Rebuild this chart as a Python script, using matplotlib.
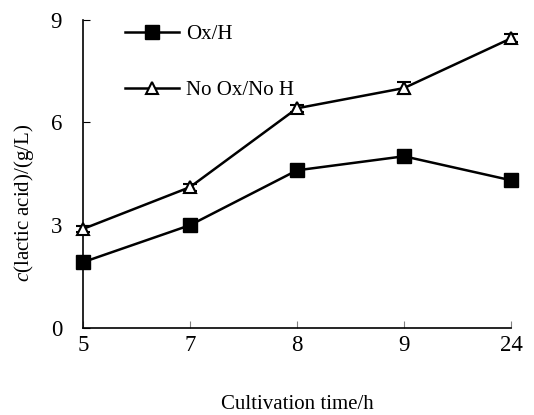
import matplotlib.pyplot as plt
from matplotlib.lines import Line2D

plt.rcParams['font.family'] = ['Liberation Serif', 'DejaVu Serif']
plt.rcParams['mathtext.fontset'] = 'custom'
plt.rcParams['mathtext.rm'] = 'Liberation Serif'
plt.rcParams['mathtext.it'] = 'Liberation Serif:italic'

time_labels = ["5", "7", "8", "9", "24"]
ox_h = [1.92, 3.0, 4.6, 5.01, 4.31]
ox_h_err = [0.08, 0.08, 0.08, 0.08, 0.08]
no_ox = [2.89, 4.11, 6.41, 7.0, 8.45]
no_ox_err = [0.1, 0.1, 0.1, 0.18, 0.12]

fig = plt.figure(figsize=(5.34, 4.15), dpi=100)
ax = fig.add_axes([0.1554, 0.2096, 0.8016, 0.7434])

x = list(range(len(time_labels)))
ax.errorbar(x, ox_h, yerr=ox_h_err, color='black', lw=1.8, marker='s',
            ms=10, mfc='black', mec='black', capsize=4, elinewidth=1.2,
            clip_on=False, zorder=3)
ax.errorbar(x, no_ox, yerr=no_ox_err, color='black', lw=1.8, marker='^',
            ms=9, mfc='white', mec='black', mew=1.5, capsize=5, elinewidth=1.5,
            clip_on=False, zorder=3)

ax.set_xlim(0, 4)
ax.set_ylim(0, 9)
ax.set_xticks(x)
ax.set_xticklabels(time_labels)
ax.set_yticks([0, 3, 6, 9])
ax.spines['top'].set_visible(False)
ax.spines['right'].set_visible(False)
ax.spines['left'].set_linewidth(1.2)
ax.spines['bottom'].set_linewidth(1.2)
ax.tick_params(axis='x', direction='in', length=5, color='gray', labelsize=16.5, pad=5)
ax.tick_params(axis='y', direction='in', length=5, labelsize=16.5, pad=15)

ax.set_xlabel('Cultivation time/h', fontsize=15, labelpad=28)
ax.set_ylabel(r'$c$(lactic acid)/(g/L)', fontsize=15)
ax.yaxis.set_label_coords(-0.11, 0.405)

handles = [
    Line2D([], [], color='black', lw=1.8, marker='s', ms=10, mfc='black'),
    Line2D([], [], color='black', lw=1.8, marker='^', ms=9, mfc='white', mew=1.5),
]
ax.legend(handles, ['Ox/H', 'No Ox/No H'], loc='upper left',
          bbox_to_anchor=(0.055, 1.045), frameon=False, fontsize=15,
          handlelength=2.6, labelspacing=1.75, handletextpad=0.3)

fig.savefig('out.png', dpi=100)
